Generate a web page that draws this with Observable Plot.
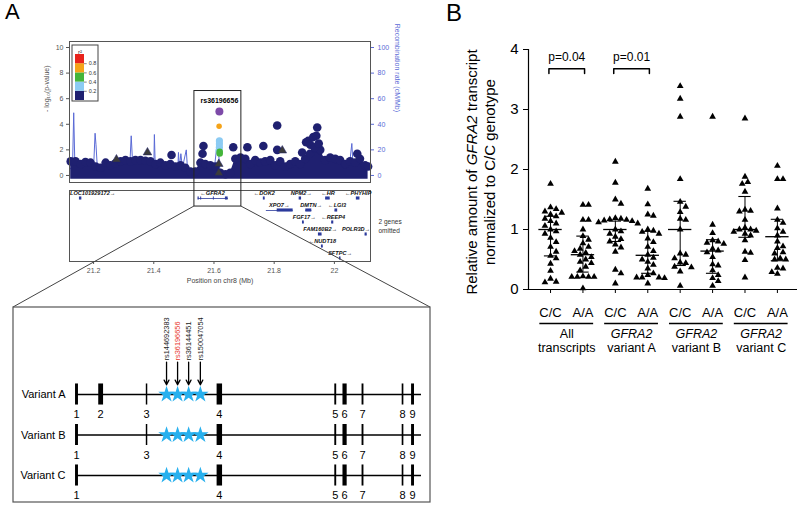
<!DOCTYPE html>
<html><head><meta charset="utf-8">
<script src="https://cdn.jsdelivr.net/npm/d3@7"></script>
<script src="https://cdn.jsdelivr.net/npm/@observablehq/plot@0.6"></script>
<style>
body{margin:0;background:#fff;font-family:"Liberation Sans",Arial,sans-serif;}
#fig{position:relative;width:800px;height:505px;overflow:hidden;background:#fff;}
#fig svg{position:absolute;overflow:visible;background:transparent;}
.lbl{position:absolute;font-family:"Liberation Sans",Arial,sans-serif;color:#000;}
</style></head><body><div id="fig"></div>
<script>
// ================= DATA =================
// --- Panel A: regional association plot ---
const blobPos = [21.124,21.140,21.157,21.173,21.190,21.207,21.223,21.240,21.256,21.273,21.290,21.306,21.323,21.339,21.356,21.372,21.389,21.406,21.422,21.439,21.455,21.472,21.489,21.505,21.522,21.538,21.555,21.571,21.588,21.605,21.621,21.638,21.654,21.671,21.688,21.704,21.721,21.737,21.754,21.770,21.787,21.803,21.820,21.836,21.853,21.870,21.886,21.903,21.919,21.936,21.953,21.969,21.986,22.003,22.019,22.036,22.052,22.069,22.085,22.102,22.112];
const blobTop = [1.1,1.1,0.9,1.05,1.0,0.7,0.6,1.0,0.8,0.95,1.1,1.2,1.1,1.2,1.2,1.15,1.1,0.9,1.0,0.8,0.9,0.7,0.8,0.6,0.3,0.3,1.0,0.9,0.8,0.7,0.2,0.1,0.2,1.3,1.4,1.3,0.9,1.2,1.0,1.1,1.2,0.8,1.1,0.7,0.9,1.1,0.9,1.3,1.7,2.1,2.0,1.2,1.4,1.3,1.2,0.9,1.1,1.0,1.3,0.8,0.7];
const outPos = [21.459,21.562,21.565,21.664,21.711,21.764,21.810,21.810,21.893,21.906,21.913,21.920,21.930,21.935,21.940,21.943,21.948,22.076];
const outVal = [1.6,1.7,2.3,2.2,2.2,2.3,3.9,2.0,1.8,2.6,2.7,2.4,3.0,2.2,3.1,3.75,2.5,1.7];
const triPos = [21.276,21.379,21.827,21.616,21.616];
const triVal = [1.25,1.8,1.95,0.9,0.2];
const ldPos = [21.618,21.617,21.618,21.618,21.618,21.617,21.619,21.619];
const ldVal = [5.0,3.85,2.7,2.45,2.2,1.95,1.85,1.72];
const ldR2  = [1.0,0.7,0.3,0.3,0.3,0.3,0.5,0.5];
const leadSnp = "rs36196656";
const recPos  = [21.12,21.13,21.134,21.138,21.15,21.17,21.18,21.2,21.205,21.208,21.212,21.23,21.25,21.28,21.3,21.32,21.325,21.33,21.35,21.38,21.40,21.402,21.405,21.43,21.46,21.48,21.482,21.485,21.49,21.495,21.508,21.512,21.53,21.55,21.6,21.612,21.62,21.66,21.68,21.72,21.75,21.8,21.85,21.9,21.95,22.0,22.05,22.058,22.062,22.1,22.12];
const recRate = [5,6,49,6,4,8,10,6,33,24,8,5,9,7,10,6,31,8,7,6,5,32,6,8,5,6,18,6,17,6,20,5,3,4,3,28,3,3,6,9,6,8,6,10,8,6,8,25,8,6,5];
const r2Breaks = [0.2,0.4,0.6,0.8];
const r2Labels = ["0.2","0.4","0.6","0.8"];
const pTicks = [0,2,4,6,8,10];
// genes
const geneLabel = ["LOC101929172→","←GFRA2","←DOK2","NPM2→","←HR","←PHYHIP","XPO7→","DMTN→","←LGI3","FGF17→","←REEP4","FAM160B2→","POLR3D→","←NUDT18","SFTPC→"];
const geneStart = [21.154,21.548,21.765,21.884,21.972,22.075,21.774,21.905,22.003,21.895,21.992,21.948,22.103,21.958,22.018];
const geneEnd   = [21.160,21.648,21.769,21.890,21.985,22.083,21.863,21.925,22.010,21.899,21.997,21.958,22.108,21.962,22.021];
const geneRow   = [1,1,1,1,1,1,2,2,2,3,3,4,4,5,6];
const geneLabX  = [21.197,21.595,21.767,21.890,21.979,22.079,21.817,21.923,22.009,21.900,21.996,21.953,22.072,21.960,22.019];
const blockStart = [21.153,21.547,21.556,21.598,21.638,21.764,21.883,21.971,22.073,21.810,21.905,22.002,21.894,21.991,21.947,22.102,21.957,22.017];
const blockEnd   = [21.161,21.551,21.559,21.601,21.647,21.770,21.891,21.986,22.085,21.863,21.925,22.011,21.900,21.998,21.959,22.109,21.963,22.022];
const blockRow   = [1,1,1,1,1,1,1,1,1,2,2,2,3,3,4,4,5,6];
const posTicks = [21.2,21.4,21.6,21.8,22];
const zoomRegion = [21.535, 21.691];
// gene structure (relative position along GFRA2, arbitrary units 0-100)
const variantNames = ["Variant A","Variant B","Variant C"];
const exonPos  = [0,7,20.3,41.4,75,77.7,82.9,94.5,97.4];
const exonSize = [1.4,2.3,0.7,2.6,0.9,2.0,0.9,0.8,1.4];
const variantExons = [[1,2,3,4,5,6,7,8,9],[1,3,4,5,6,7,8,9],[1,4,5,6,7,8,9]];
const snpIds = ["rs144692383","rs36196656","rs36144451","rs150047054"];
const snpPos = [26.1,29.3,32.5,35.9];

// --- Panel B ---
const genos = ["C/C","A/A","C/C","A/A","C/C","A/A","C/C","A/A"];
const groupLine1 = ["All","GFRA2","GFRA2","GFRA2"];
const groupLine2 = ["transcripts","variant A","variant B","variant C"];
const ccAll = [1.76,1.37,1.34,1.30,1.28,1.25,1.22,1.18,1.14,1.10,1.06,1.00,0.97,0.93,0.86,0.79,0.71,0.63,0.56,0.52,0.43,0.31,0.18,0.13,0.12];
const aaAll = [1.41,1.41,1.16,1.16,1.00,0.89,0.83,0.77,0.71,0.68,0.64,0.61,0.58,0.54,0.50,0.46,0.44,0.38,0.32,0.22,0.21,0.21,0.21,0.21,0.02];
const ccVarA = [2.13,1.78,1.50,1.43,1.19,1.18,1.17,1.16,1.15,1.14,1.12,1.10,1.00,0.97,0.93,0.88,0.84,0.80,0.75,0.70,0.63,0.33,0.27,0.10];
const aaVarA = [1.68,1.42,1.25,1.23,1.00,0.98,0.96,0.93,0.85,0.79,0.71,0.64,0.58,0.53,0.50,0.46,0.41,0.35,0.27,0.24,0.20,0.20,0.20,0.19,0.10];
const ccVarB = [3.39,3.18,2.88,1.84,1.46,1.38,1.29,1.18,1.16,1.00,0.60,0.58,0.52,0.45,0.44,0.38,0.37,0.30,0.06];
const aaVarB = [2.88,1.08,0.94,0.82,0.80,0.78,0.76,0.68,0.65,0.62,0.54,0.42,0.40,0.32,0.24,0.19,0.14,0.06];
const ccVarC = [2.85,1.88,1.79,1.76,1.63,1.33,1.31,1.30,1.16,1.03,1.00,1.00,0.98,0.96,0.93,0.90,0.82,0.63,0.61,0.49,0.20];
const aaVarC = [2.06,1.84,1.84,1.35,1.16,1.11,1.02,0.96,0.90,0.80,0.72,0.69,0.62,0.60,0.52,0.50,0.50,0.36,0.35,0.29,0.26];
const medians = [1.00,0.58,1.00,0.57,1.00,0.64,1.00,0.88];
const upperQ  = [1.22,0.89,1.14,0.97,1.47,0.83,1.55,1.17];
const lowerQ  = [0.56,0.29,0.80,0.27,0.40,0.27,0.87,0.48];
const pLabels = ["p=0.04","p=0.01"];
const pFrom = [0,2], pTo = [1,3];

// ================= BUILD =================
const fig = document.getElementById("fig");
const FONT = "Liberation Sans, Arial, sans-serif";
const navy = "#1f2070", recBlue = "#5a6ad6", gBlue = "#2b3a9c";
const ldColor = d3.scaleThreshold().domain(r2Breaks).range([navy,"#8ccbf3","#44b53a","#f5a318","#e8231c"]);
const place = (el, left, top) => { el.style.left = left + "px"; el.style.top = top + "px"; fig.appendChild(el); return el; };

// ---- Manhattan ----
const blob = blobPos.map((p,i)=>({pos:p, top:blobTop[i]}));
const outl = outPos.map((p,i)=>({pos:p, v:outVal[i]}));
const tris = triPos.map((p,i)=>({pos:p, v:triVal[i]}));
const ld = ldPos.map((p,i)=>({pos:p, v:ldVal[i], r2:ldR2[i], lead:i===0}));
const rec = recPos.map((p,i)=>({pos:p, rate:recRate[i]}));
const manh = Plot.plot({
  width: 400, height: 190, marginLeft: 69, marginRight: 30, marginTop: 41, marginBottom: 8,
  style: {fontFamily: FONT, background: "transparent", overflow: "visible"},
  x: {domain: [21.12, 22.12], axis: null},
  y: {domain: [-0.55, 10.47]},
  marks: [
    Plot.axisY({ticks: pTicks, tickSize: 3, tickPadding: 3, fontSize: 7, color: "#555"}),
    Plot.axisY({anchor: "right", ticks: pTicks, tickFormat: d => d * 10, tickSize: 3, tickPadding: 4, fontSize: 7, color: recBlue}),
    Plot.text(["- log\u2081\u2080(p-value)"], {frameAnchor: "left", dx: -23, rotate: -90, fontSize: 7, fill: "#555"}),
    Plot.text(["Recombination rate (cM/Mb)"], {frameAnchor: "right", dx: 27, rotate: 90, fontSize: 7, fill: recBlue}),
    Plot.line(rec, {x: "pos", y: d => d.rate / 10, stroke: recBlue, strokeWidth: 1}),
    Plot.areaY(blob, {x: "pos", y1: -0.3, y2: "top", fill: navy}),
    Plot.dot(blob, {x: "pos", y: "top", r: 4.3, fill: navy}),
    Plot.dot(outl, {x: "pos", y: "v", r: 4.3, fill: navy}),
    Plot.dot(tris, {x: "pos", y: "v", r: 3.2, symbol: "triangle", fill: "#3b3b3b", stroke: navy, strokeWidth: 0.5}),
    Plot.dot(ld.filter(d => !d.lead && d.r2 < 0.4), {x: "pos", y: "v", r: 3.6, fill: d => ldColor(d.r2)}),
    Plot.dot(ld.filter(d => !d.lead && d.r2 >= 0.4), {x: "pos", y: "v", r: d => d.r2 >= 0.6 ? 4 : 5.5, fill: d => ldColor(d.r2)}),
    Plot.dot(ld.filter(d => d.lead), {x: "pos", y: "v", r: 4, fill: "#7d4aa8"}),
    Plot.text(ld.filter(d => d.lead), {x: "pos", y: "v", dy: -11, text: () => leadSnp, fontSize: 7, fontWeight: "bold"}),
    Plot.frame({stroke: "#555"})
  ]
});
place(manh, 0, 0);

// ---- r2 legend ----
const bins = [0,0.2,0.4,0.6,0.8].map((lo,i)=>({lo, hi: lo + 0.2, c: ldColor(lo + 0.1)}));
const lg = Plot.plot({
  width: 27, height: 57, marginLeft: 4, marginRight: 14, marginTop: 10, marginBottom: 1,
  style: {fontFamily: FONT, background: "transparent", overflow: "visible"},
  x: {domain: [0, 1], axis: null}, y: {domain: [0, 1], axis: null}, color: {type: "identity"},
  marks: [
    Plot.rect(bins, {x1: 0, x2: 1, y1: "lo", y2: "hi", fill: "c"}),
    Plot.ruleY(r2Breaks, {x1: 1, x2: 1.3, stroke: "#333", strokeWidth: 0.6}),
    Plot.text(r2Breaks, {x: 1.3, y: d => d, text: (d,i) => r2Labels[i], dx: 1.5, textAnchor: "start", fontSize: 5.5, fill: "#333"}),
    Plot.text(["r\u00B2"], {frameAnchor: "top", dy: -5, fontSize: 6, fill: "#333"}),
    Plot.frame({stroke: "#444", insetLeft: -3.5, insetRight: -13.5, insetTop: -9.5, insetBottom: -0.5})
  ]
});
place(lg, 71, 44);

// ---- gene panel ----
const genes = geneLabel.map((l,i)=>({label:l, start:geneStart[i], end:geneEnd[i], row:geneRow[i], lx:geneLabX[i]}));
const blocks = blockStart.map((s,i)=>({s, e:blockEnd[i], row:blockRow[i]}));
const gp = Plot.plot({
  width: 400, height: 105, marginLeft: 69, marginRight: 30, marginTop: 5, marginBottom: 29,
  style: {fontFamily: FONT, background: "transparent", overflow: "visible"},
  x: {domain: [21.12, 22.12]},
  y: {domain: [0.333, 6.25], reverse: true, axis: null},
  marks: [
    Plot.frame({stroke: "#555"}),
    Plot.axisX({ticks: posTicks, tickSize: 3, tickPadding: 4, fontSize: 7, color: "#555", tickFormat: d => d === 22 ? "22" : d.toFixed(1)}),
    Plot.ruleY(genes, {x1: "start", x2: "end", y: "row", stroke: gBlue, strokeWidth: 0.8}),
    Plot.rect(blocks, {x1: "s", x2: "e", y1: d => d.row - 0.13, y2: d => d.row + 0.13, fill: gBlue}),
    Plot.text(genes, {x: "lx", y: "row", dy: -5, text: "label", fontSize: 5.6, fontWeight: "bold", fontStyle: "italic", fill: "#111"}),
    Plot.text(["2 genes\nomitted"], {frameAnchor: "right", dx: 8, textAnchor: "start", fontSize: 6.5, lineHeight: 1.35, fill: "#333"}),
    Plot.text(["Position on chr8 (Mb)"], {frameAnchor: "bottom", dy: 21, fontSize: 7, fill: "#444"})
  ]
});
place(gp, 0, 185);

// ---- gene structure panel ----
const exons = variantExons.flatMap((list,row)=>list.map(n=>({row, num:n, pos:exonPos[n-1], w:exonSize[n-1]*2.1})));
const stars = [0,1,2].flatMap(row => snpPos.map(p => ({row, pos:p})));
const snps = snpIds.map((id,i)=>({id, pos:snpPos[i], lead: id === leadSnp}));
const gs = Plot.plot({
  width: 417, height: 196, marginLeft: 63, marginRight: 9, marginTop: 87, marginBottom: 28,
  style: {fontFamily: FONT, background: "transparent", overflow: "visible"},
  x: {domain: [0, 100], axis: null},
  y: {domain: [0, 2], reverse: true, axis: null},
  marks: [
    Plot.ruleY([0,1,2], {x1: 0, x2: 100, stroke: "#000", strokeWidth: 1.5}),
    Plot.ruleX(exons, {x: "pos", y1: d => d.row - 0.26, y2: d => d.row + 0.26, strokeWidth: "w", stroke: "#000"}),
    Plot.text(exons, {x: "pos", y: "row", dy: 20, text: "num", fontSize: 11}),
    Plot.text(variantNames, {x: 0, y: (d,i) => i, dx: -11, textAnchor: "end", fontSize: 11}),
    Plot.dot(stars, {x: "pos", y: "row", symbol: "star", r: 5.2, fill: "#27b0ee"}),
    Plot.arrow(snps, {x1: "pos", x2: "pos", y1: -0.8, y2: -0.24, headLength: 6, headAngle: 55, strokeWidth: 1.3, stroke: "#000"}),
    Plot.text(snps.filter(d => !d.lead), {x: "pos", y: -0.84, text: "id", rotate: -90, textAnchor: "start", fontSize: 7.4, fill: "#222"}),
    Plot.text(snps.filter(d => d.lead), {x: "pos", y: -0.84, text: "id", rotate: -90, textAnchor: "start", fontSize: 7.4, fill: "#e8321e"})
  ]
});
place(gs, 13, 307);

// ---- overlay: zoom box, connectors, lower frame ----
{
  const sx = manh.scale("x"), sy = manh.scale("y"), gy = gp.scale("y");
  const x1 = sx.apply(zoomRegion[0]), x2 = sx.apply(zoomRegion[1]);
  const yTop = sy.apply(6.6), yBot = 185 + gy.apply(1.67);
  const bl = 13, bt = 307, br = 13 + 417, bb = 307 + 196;
  const ov = d3.create("svg").attr("width", 800).attr("height", 505).style("left", "0px").style("top", "0px");
  ov.append("rect").attr("x", x1).attr("y", yTop).attr("width", x2 - x1).attr("height", yBot - yTop)
    .attr("fill", "none").attr("stroke", "#222").attr("stroke-width", 1);
  ov.append("line").attr("x1", x1).attr("y1", yBot).attr("x2", bl).attr("y2", bt).attr("stroke", "#444");
  ov.append("line").attr("x1", x2).attr("y1", yBot).attr("x2", br).attr("y2", bt).attr("stroke", "#444");
  ov.append("rect").attr("x", bl).attr("y", bt).attr("width", br - bl).attr("height", bb - bt - 1)
    .attr("fill", "none").attr("stroke", "#555").attr("stroke-width", 1.2);
  fig.appendChild(ov.node());
}

// ---- Panel B ----
function swarm(vals, ux, uy, d, step) {
  const order = vals.map((v,i)=>i).sort((a,b)=>vals[b]-vals[a]);
  const placed = [], off = new Array(vals.length);
  for (const i of order) {
    const py = vals[i] * uy;
    for (let k = 0; ; k++) {
      const c = k === 0 ? 0 : (k % 2 ? 1 : -1) * Math.ceil(k / 2) * step;
      if (placed.every(p => (p.x - c) ** 2 + (p.y - py) ** 2 >= d * d)) { placed.push({x: c, y: py}); off[i] = c / ux; break; }
    }
  }
  return off;
}
const series = [ccAll, aaAll, ccVarA, aaVarA, ccVarB, aaVarB, ccVarC, aaVarC];
const pts = series.flatMap((vals, ci) => { const o = swarm(vals, 32.43, 60, 5.6, 2.8); return vals.map((v,j)=>({x: ci + o[j], v})); });
const summ = medians.map((m,i)=>({i, med:m, q1:lowerQ[i], q3:upperQ[i]}));
const groups = groupLine1.map((l,i)=>({mid: 2*i + 0.5, l1:l, l2:groupLine2[i], it: l !== "All"}));
const brackets = pLabels.flatMap((t,i)=>[
  {k:i, x:pFrom[i]-0.05, y:3.6},{k:i, x:pFrom[i]-0.05, y:3.68},{k:i, x:pTo[i]+0.05, y:3.68},{k:i, x:pTo[i]+0.05, y:3.6}]);
const xd = [-0.68, 7.62];
const pb = Plot.plot({
  width: 360, height: 360, marginLeft: 88, marginRight: 3, marginTop: 49, marginBottom: 71,
  style: {fontFamily: FONT, background: "transparent", overflow: "visible", color: "#000"},
  x: {domain: xd}, y: {domain: [0, 4]},
  marks: [
    Plot.axisY({ticks: [0,1,2,3,4], tickSize: 5, tickPadding: 5, fontSize: 15, tickFormat: d => String(d)}),
    Plot.axisX({ticks: d3.range(8), tickSize: 4, tickPadding: 14, fontSize: 13, tickFormat: i => genos[i]}),
    Plot.ruleY([0], {strokeWidth: 1.2}),
    Plot.ruleX([xd[0]], {y1: 0, y2: 4, strokeWidth: 1.2}),
    Plot.dot(pts, {x: "x", y: "v", symbol: "triangle", r: 2.5, fill: "#000"}),
    Plot.ruleX(summ, {x: "i", y1: "q1", y2: "q3", strokeWidth: 1}),
    Plot.ruleY(summ, {y: "med", x1: d => d.i - 0.36, x2: d => d.i + 0.36, strokeWidth: 1.3}),
    Plot.ruleY(summ, {y: "q1", x1: d => d.i - 0.19, x2: d => d.i + 0.19, strokeWidth: 1.1}),
    Plot.ruleY(summ, {y: "q3", x1: d => d.i - 0.19, x2: d => d.i + 0.19, strokeWidth: 1.1}),
    Plot.line(brackets, {x: "x", y: "y", z: "k", stroke: "#000", strokeWidth: 1.5}),
    Plot.text(pLabels, {x: (d,i) => (pFrom[i] + pTo[i]) / 2, y: 3.88, text: d => d, fontSize: 12}),
    Plot.ruleY(groups, {x1: d => d.mid - 0.83, x2: d => d.mid + 0.83, y: 0, dy: 34, strokeWidth: 1.5}),
    Plot.text(groups.filter(d => !d.it), {x: "mid", y: 0, dy: 44.5, text: "l1", fontSize: 12.5}),
    Plot.text(groups.filter(d => d.it), {x: "mid", y: 0, dy: 44.5, text: "l1", fontSize: 12.5, fontStyle: "italic"}),
    Plot.text(groups, {x: "mid", y: 0, dy: 58, text: "l2", fontSize: 12.5})
  ]
});
place(pb, 440, 0);

// ---- HTML labels ----
const yl = document.createElement("div");
yl.className = "lbl";
yl.style.cssText += "width:300px;height:40px;text-align:center;font-size:15px;line-height:18px;transform:rotate(-90deg);";
yl.innerHTML = "Relative amount of <i>GFRA2</i> transcript<br>normalized to C/C genotype";
place(yl, 483 - 150, 172 - 20);
for (const [t, l, s] of [["A", 5, 22], ["B", 446, 24]]) {
  const e = document.createElement("div"); e.className = "lbl";
  e.style.fontSize = s + "px"; e.style.lineHeight = "1"; e.textContent = t; place(e, l, 1);
}
</script></body></html>
